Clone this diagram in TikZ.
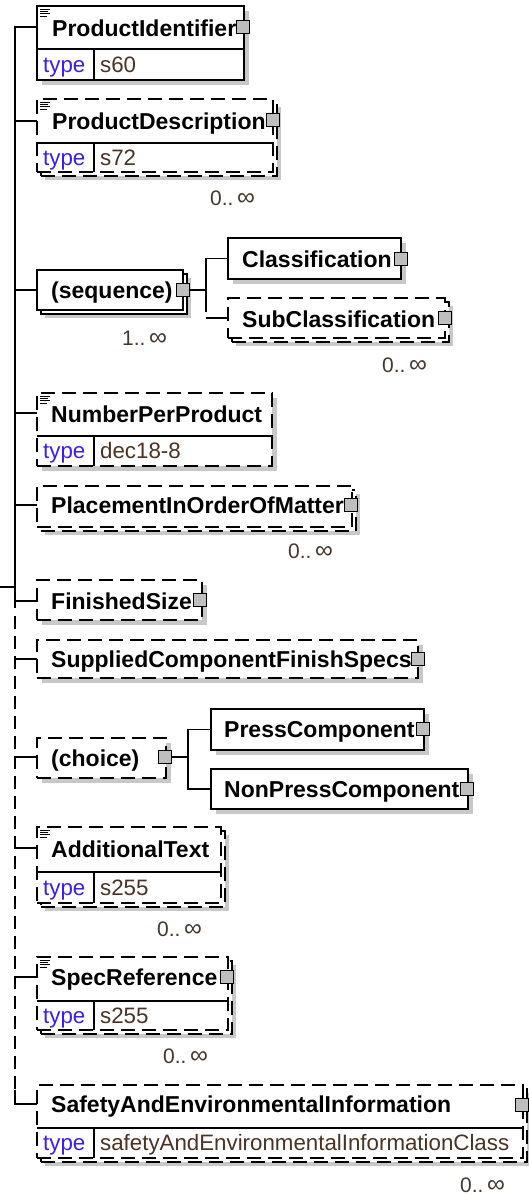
\documentclass[tikz,border=0pt]{standalone}
\usepackage{fontspec}
\setmainfont{Liberation Sans}
\usetikzlibrary{calc}
\definecolor{shd}{RGB}{200,200,200}
\definecolor{sqc}{RGB}{190,190,190}
\definecolor{typec}{RGB}{60,30,235}
\definecolor{valc}{RGB}{75,50,35}
\definecolor{occc}{RGB}{70,55,45}
\tikzset{
 bx/.style={draw=black, line width=1.1pt, fill=white, inner sep=0pt, outer sep=0pt, anchor=north west},
 dbx/.style={bx, dash pattern=on 14pt off 7pt},
 conn/.style={line width=1.1pt, draw=black},
 dconn/.style={conn, dash pattern=on 13pt off 7pt},
 inner/.style={line width=1.1pt, draw=black},
 sqbox/.style={draw=black, line width=1pt, fill=sqc, minimum size=13pt, inner sep=0pt, outer sep=0pt},
 nm/.style={font=\fontsize{23}{26}\selectfont\bfseries, anchor=base west, inner sep=0pt},
 tp/.style={font=\fontsize{22.3}{26}\selectfont, text=typec, anchor=base west, inner sep=0pt},
 vl/.style={font=\fontsize{22.3}{26}\selectfont, text=valc, anchor=base west, inner sep=0pt},
 oc/.style={font=\fontsize{21}{24}\selectfont, text=occc, anchor=base west, inner sep=0pt},
}
\newcommand{\infsym}{{\fontsize{25}{24}\selectfont ∞}}
% single box: name, x1, y1, x2, y2, style
\newcommand{\singlebox}[6]{%
  \fill[shd] (#2+5,#3+5) rectangle (#4+5,#5+5);
  \node[#6, minimum width={#4-#2}, minimum height={#5-#3}] (#1) at (#2,#3) {};
}
% stacked box (multiple occurrences)
\newcommand{\stackbox}[6]{%
  \fill[shd] (#2+8,#3+8) rectangle (#4+8,#5+8);
  \node[#6, minimum width={#4-#2}, minimum height={#5-#3}] (#1b) at (#2+4,#3+4) {};
  \node[#6, minimum width={#4-#2}, minimum height={#5-#3}] (#1) at (#2,#3) {};
}
% documentation icon at top-left corner x,y
\newcommand{\docicon}[2]{%
  \draw[line width=0.8pt] (#1+3,#2+3) -- +(10,0) (#1+3,#2+5.3) -- +(8,0)
     (#1+3,#2+7.6) -- +(10,0) (#1+3,#2+9.9) -- +(7,0);
}
% type row
\newcommand{\typerow}[6]{%
  \draw[inner] (#2,#3) -- (#5,#3);
  \draw[inner] (94,#3) -- (94,#4);
  \node[tp] (#1-tp) at (43,{(#3+#4)/2+7.5}) {type};
  \node[vl] (#1-vl) at (100,{(#3+#4)/2+7.5}) {#6};
}
\begin{document}
\begin{tikzpicture}[x=1pt,y=-1pt]
\useasboundingbox (0,0) rectangle (529,1195);

% ---------- boxes ----------
\singlebox{pid}{37}{6}{244}{80}{bx}
\stackbox{pd}{37}{99}{273}{172}{dbx}
\stackbox{seq}{37}{270}{183}{310}{bx}
\singlebox{cls}{228}{238}{401}{279}{bx}
\stackbox{sub}{228}{298}{445}{338}{dbx}
\singlebox{npp}{37}{393}{272}{466}{dbx}
\stackbox{pl}{37}{486}{352}{527}{dbx}
\singlebox{fs}{37}{580}{202}{620}{dbx}
\singlebox{scfs}{37}{640}{418}{678}{dbx}
\singlebox{ch}{37}{738}{166}{778}{dbx}
\singlebox{pc}{211}{709}{424}{750}{bx}
\singlebox{npc}{211}{769}{468}{809}{bx}
\stackbox{at}{37}{827}{221}{903}{dbx}
\stackbox{sr}{37}{957}{228}{1030}{dbx}
\stackbox{sae}{37}{1085}{523}{1158}{dbx}

% ---------- type rows ----------
\typerow{pid}{37}{49}{80}{244}{s60}
\typerow{pd}{37}{143}{172}{273}{s72}
\typerow{npp}{37}{436}{466}{272}{dec18-8}
\typerow{at}{37}{872}{903}{221}{s255}
\typerow{sr}{37}{1001}{1030}{228}{s255}
\typerow{sae}{37}{1128}{1158}{523}{safetyAndEnvironmentalInformationClass}

% ---------- doc icons ----------
\docicon{37}{6}
\docicon{37}{99}
\docicon{37}{393}
\docicon{37}{827}
\docicon{37}{957}

% ---------- names ----------
\node[nm] (pid-t) at (52,36) {ProductIdentifier};
\node[nm] (pd-t) at (52,129) {ProductDescription};
\node[nm] (seq-t) at (51,298) {(sequence)};
\node[nm] (cls-t) at (242,267) {Classification};
\node[nm] (sub-t) at (242,327) {SubClassification};
\node[nm] (npp-t) at (51,422) {NumberPerProduct};
\node[nm] (pl-t) at (51,513) {PlacementInOrderOfMatter};
\node[nm] (fs-t) at (51,609) {FinishedSize};
\node[nm] (scfs-t) at (51,667) {SuppliedComponentFinishSpecs};
\node[nm] (ch-t) at (51,766) {(choice)};
\node[nm] (pc-t) at (224,737) {PressComponent};
\node[nm] (npc-t) at (224,797) {NonPressComponent};
\node[nm] (at-t) at (51,857) {AdditionalText};
\node[nm] (sr-t) at (51,985) {SpecReference};
\node[nm] (sae-t) at (51,1112) {SafetyAndEnvironmentalInformation};

% ---------- grey squares ----------
\node[sqbox] (pid-sq) at (243,27) {};
\node[sqbox] (pd-sq) at (273,120) {};
\node[sqbox] (seq-sq) at (183,290) {};
\node[sqbox] (cls-sq) at (401,259) {};
\node[sqbox] (sub-sq) at (445,318) {};
\node[sqbox] (pl-sq) at (351,505) {};
\node[sqbox] (fs-sq) at (200,600) {};
\node[sqbox] (scfs-sq) at (418,659) {};
\node[sqbox] (ch-sq) at (165,757) {};
\node[sqbox] (pc-sq) at (423,729) {};
\node[sqbox] (npc-sq) at (467,789) {};
\node[sqbox] (sr-sq) at (227,977) {};
\node[sqbox] (sae-sq) at (522,1105) {};

% ---------- occurrences ----------
\node[oc] (pd-oc) at (210,205) {0..\,\infsym};
\node[oc] (seq-oc) at (122,345) {1..\,\infsym};
\node[oc] (sub-oc) at (382,372) {0..\,\infsym};
\node[oc] (pl-oc) at (288,558) {0..\,\infsym};
\node[oc] (at-oc) at (157,936) {0..\,\infsym};
\node[oc] (sr-oc) at (163,1063) {0..\,\infsym};
\node[oc] (sae-oc) at (460,1192) {0..\,\infsym};

% ---------- spine ----------
\coordinate (root) at (0,587);
\coordinate (sp-r) at (15,587);
\coordinate (sp-top) at (15,27);
\coordinate (sp-sol) at (15,608);
\coordinate (sp-dsh) at (15,616);
\coordinate (sp-crn) at (15,1090);
\coordinate (sp-bot) at (15,1104);
\draw[conn] (root) -- (sp-r);
\draw[conn] (pid.west |- sp-top) -- (sp-top) -- (sp-sol);
\draw[dconn] (sp-dsh) -- (sp-crn);
\draw[conn] (sp-crn) -- (sp-bot) -- (sae.west |- sp-bot);

\coordinate (j-pd) at (15,121);
\coordinate (j-seq) at (15,290);
\coordinate (j-npp) at (15,413);
\coordinate (j-pl) at (15,505);
\coordinate (j-fs) at (15,601);
\coordinate (j-scfs) at (15,659);
\coordinate (j-ch) at (15,757);
\coordinate (j-at) at (15,848);
\coordinate (j-sr) at (15,977);
\draw[conn] (j-pd) -- (pd.west |- j-pd);
\draw[conn] (j-seq) -- (seq.west |- j-seq);
\draw[conn] (j-npp) -- (npp.west |- j-npp);
\draw[conn] (j-pl) -- (pl.west |- j-pl);
\draw[conn] (j-fs) -- (fs.west |- j-fs);
\draw[conn] (j-scfs) -- (scfs.west |- j-scfs);
\draw[conn] (j-ch) -- (ch.west |- j-ch);
\draw[conn] (j-at) -- (at.west |- j-at);
\draw[conn] (j-sr) -- (sr.west |- j-sr);

% ---------- sequence ----------
\coordinate (seq-j) at (206,290);
\coordinate (seq-l) at (206,312);
\coordinate (seq-c) at (206,318);
\draw[conn] (seq-sq.east) -- (seq-j);
\draw[conn] (cls.west) -| (seq-j) -- (seq-l);
\draw[conn] (seq-c) -- (sub.west |- seq-c);

% ---------- choice ----------
\coordinate (ch-j) at (188,757);
\draw[conn] (ch-sq.east) -- (ch-j);
\draw[conn] (pc.west) -| (ch-j) |- (npc.west);
\end{tikzpicture}
\end{document}
